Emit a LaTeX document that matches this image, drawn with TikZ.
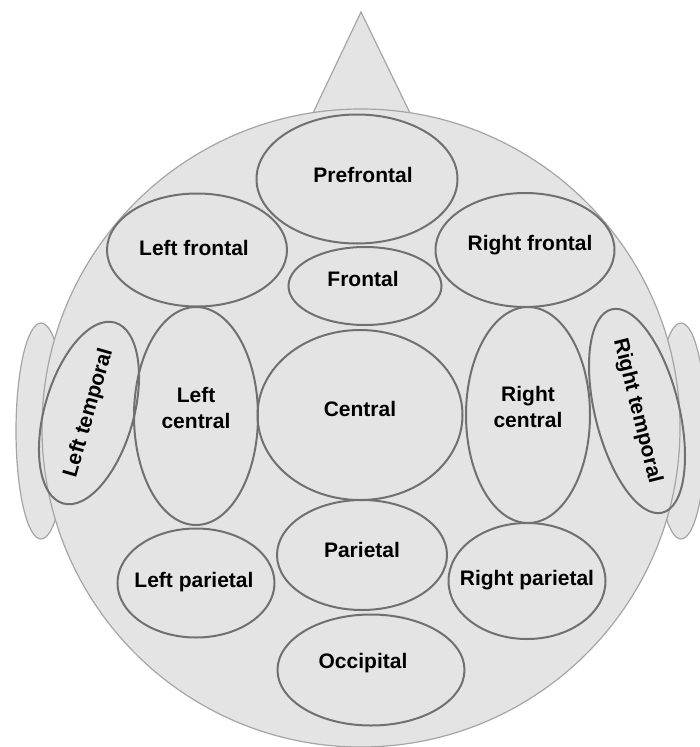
\documentclass[tikz,border=0pt]{standalone}
\usepackage{fontspec}
\setmainfont{Liberation Sans}
\usetikzlibrary{shapes.geometric}

\definecolor{skin}{RGB}{228,228,228}
\definecolor{rim}{RGB}{165,165,165}
\definecolor{zone}{RGB}{112,112,112}

\begin{document}
\begin{tikzpicture}[
			x = 1pt, y = -1pt,
			head/.style = {fill=skin, draw=rim, line width=1.2pt},
			region/.style = {ellipse, draw=zone, line width=2pt, inner sep=0pt},
			lbl/.style = {font=\bfseries\fontsize{21}{26}\selectfont, align=center}
			]

			\useasboundingbox (0,0) rectangle (699,747);

			\def\cx{361}
			\def\cy{428}
			\def\hr{319pt}

			% ears, nose and head
			\draw[head] (41,431) ellipse (25pt and 108pt);
			\draw[head] (681,431) ellipse (25pt and 108pt);
			\draw[head] (313,113) -- (361,12) -- (410,113) -- cycle;
			\draw[head] (\cx,\cy) circle (\hr);

			% regions
			\node[region, minimum width=201pt, minimum height=129pt,
				label={[lbl, xshift=6pt, yshift=4pt]center:Prefrontal}] (pf) at (357,179) {};
			\node[region, minimum width=180pt, minimum height=113pt,
				label={[lbl, xshift=-3pt, yshift=2pt]center:Left frontal}] (lf) at (197,250) {};
			\node[region, minimum width=179pt, minimum height=114pt,
				label={[lbl, xshift=5pt, yshift=5pt]center:Right frontal}] (rf) at (525,250) {};
			\node[region, minimum width=153pt, minimum height=78pt,
				label={[lbl, xshift=-2pt, yshift=7pt]center:Frontal}] (fr) at (365,286) {};

			\node[region, rotate=74, minimum width=182pt, minimum height=89pt,
				lbl] (lt) at (89,413) {Left temporal};
			\node[region, minimum width=124pt, minimum height=218pt,
				label={[lbl, yshift=8pt]center:Left\\central}] (lc) at (196,416) {};
			\node[region, minimum width=205pt, minimum height=170pt,
				label={[lbl, yshift=6pt]center:Central}] (ce) at (360,415) {};
			\node[region, minimum width=124pt, minimum height=216pt,
				label={[lbl, yshift=8pt]center:Right\\central}] (rc) at (528,415) {};
			\node[region, rotate=-76, minimum width=186pt, minimum height=84pt,
				lbl] (rt) at (637,411) {Right temporal};

			\node[region, minimum width=170pt, minimum height=110pt,
				label={[lbl, yshift=5pt]center:Parietal}] (pa) at (362,555) {};
			\node[region, minimum width=157pt, minimum height=109pt,
				label={[lbl, xshift=-2pt, yshift=1pt]center:Left parietal}] (lp) at (196,583) {};
			\node[region, minimum width=157pt, minimum height=116pt,
				label={[lbl, yshift=1pt]center:Right parietal}] (rp) at (527,581) {};
			\node[region, minimum width=187pt, minimum height=111pt,
				label={[lbl, xshift=-8pt, yshift=7pt]center:Occipital}] (oc) at (371,670) {};

		\end{tikzpicture}
\end{document}
